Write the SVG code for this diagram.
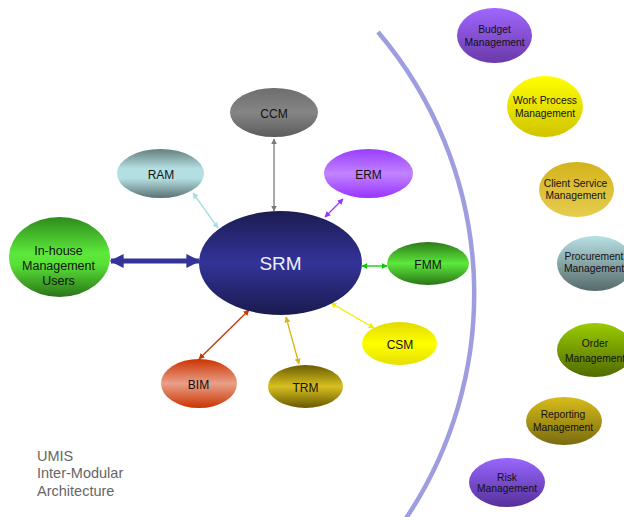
<svg xmlns="http://www.w3.org/2000/svg" width="624" height="517" viewBox="0 0 624 517">
<style>
text{font-family:"Liberation Sans",Arial,sans-serif;text-anchor:middle;fill:#111}
.s{font-size:12px}
.r{font-size:10.3px}
.c{fill:none;stroke-width:1.3}
</style>
<defs>
<linearGradient id="gSRM" x1="0" y1="0" x2="0" y2="1"><stop offset="0" stop-color="#1c1c52"/><stop offset="0.5" stop-color="#333399"/><stop offset="1" stop-color="#1a1a4e"/></linearGradient>
<linearGradient id="gCCM" x1="0" y1="0" x2="0" y2="1"><stop offset="0" stop-color="#6e6e6e"/><stop offset="0.5" stop-color="#858585"/><stop offset="1" stop-color="#5c5c5c"/></linearGradient>
<linearGradient id="gRAM" x1="0" y1="0" x2="0" y2="1"><stop offset="0" stop-color="#647e7e"/><stop offset="0.4" stop-color="#b4dfe2"/><stop offset="0.6" stop-color="#b4dfe2"/><stop offset="1" stop-color="#5a7272"/></linearGradient>
<linearGradient id="gIH" x1="0" y1="0" x2="0" y2="1"><stop offset="0" stop-color="#2e8a1c"/><stop offset="0.45" stop-color="#5ce83a"/><stop offset="0.6" stop-color="#58e036"/><stop offset="1" stop-color="#2a7418"/></linearGradient>
<linearGradient id="gERM" x1="0" y1="0" x2="0" y2="1"><stop offset="0" stop-color="#9a3cff"/><stop offset="0.5" stop-color="#c184ff"/><stop offset="1" stop-color="#9933ff"/></linearGradient>
<linearGradient id="gFMM" x1="0" y1="0" x2="0" y2="1"><stop offset="0" stop-color="#2d7a1a"/><stop offset="0.5" stop-color="#5ce83a"/><stop offset="1" stop-color="#2a7418"/></linearGradient>
<linearGradient id="gCSM" x1="0" y1="0" x2="0" y2="1"><stop offset="0" stop-color="#e2da00"/><stop offset="0.5" stop-color="#ffff00"/><stop offset="1" stop-color="#e6e000"/></linearGradient>
<linearGradient id="gTRM" x1="0" y1="0" x2="0" y2="1"><stop offset="0" stop-color="#6a5c00"/><stop offset="0.5" stop-color="#d8c020"/><stop offset="1" stop-color="#665800"/></linearGradient>
<linearGradient id="gBIM" x1="0" y1="0" x2="0" y2="1"><stop offset="0" stop-color="#cc3300"/><stop offset="0.5" stop-color="#e8a088"/><stop offset="1" stop-color="#cc3300"/></linearGradient>
<linearGradient id="gBud" x1="0" y1="0" x2="0" y2="1"><stop offset="0" stop-color="#a066ff"/><stop offset="1" stop-color="#6a3aa8"/></linearGradient>
<linearGradient id="gWP" x1="0" y1="0" x2="0" y2="1"><stop offset="0" stop-color="#ffff00"/><stop offset="1" stop-color="#d0c400"/></linearGradient>
<linearGradient id="gCS" x1="0" y1="0" x2="0" y2="1"><stop offset="0" stop-color="#d4b41c"/><stop offset="1" stop-color="#e6cc50"/></linearGradient>
<linearGradient id="gPro" x1="0" y1="0" x2="0" y2="1"><stop offset="0" stop-color="#b8e0e4"/><stop offset="1" stop-color="#566a6a"/></linearGradient>
<linearGradient id="gOrd" x1="0" y1="0" x2="0" y2="1"><stop offset="0" stop-color="#9acc00"/><stop offset="1" stop-color="#506a00"/></linearGradient>
<linearGradient id="gRep" x1="0" y1="0" x2="0" y2="1"><stop offset="0" stop-color="#d8bc1a"/><stop offset="1" stop-color="#7a6a10"/></linearGradient>
<linearGradient id="gRisk" x1="0" y1="0" x2="0" y2="1"><stop offset="0" stop-color="#9966ff"/><stop offset="1" stop-color="#55309a"/></linearGradient>
<marker id="mGray" viewBox="0 0 10 10" refX="9" refY="5" markerWidth="6" markerHeight="6" markerUnits="userSpaceOnUse" orient="auto-start-reverse"><path d="M0 0L10 5L0 10z" fill="#7a7a7a"/></marker>
<marker id="mLB" viewBox="0 0 10 10" refX="9" refY="5" markerWidth="6" markerHeight="6" markerUnits="userSpaceOnUse" orient="auto-start-reverse"><path d="M0 0L10 5L0 10z" fill="#a8dce2"/></marker>
<marker id="mPur" viewBox="0 0 10 10" refX="9" refY="5" markerWidth="6" markerHeight="6" markerUnits="userSpaceOnUse" orient="auto-start-reverse"><path d="M0 0L10 5L0 10z" fill="#9933ff"/></marker>
<marker id="mGrn" viewBox="0 0 10 10" refX="9" refY="5" markerWidth="6" markerHeight="6" markerUnits="userSpaceOnUse" orient="auto-start-reverse"><path d="M0 0L10 5L0 10z" fill="#00cc00"/></marker>
<marker id="mYel" viewBox="0 0 10 10" refX="9" refY="5" markerWidth="6" markerHeight="6" markerUnits="userSpaceOnUse" orient="auto-start-reverse"><path d="M0 0L10 5L0 10z" fill="#eeee00"/></marker>
<marker id="mGold" viewBox="0 0 10 10" refX="9" refY="5" markerWidth="6" markerHeight="6" markerUnits="userSpaceOnUse" orient="auto-start-reverse"><path d="M0 0L10 5L0 10z" fill="#d8b410"/></marker>
<marker id="mRed" viewBox="0 0 10 10" refX="9" refY="5" markerWidth="6" markerHeight="6" markerUnits="userSpaceOnUse" orient="auto-start-reverse"><path d="M0 0L10 5L0 10z" fill="#cc3300"/></marker>
<marker id="mBig" viewBox="0 0 10 10" refX="9" refY="5" markerWidth="14" markerHeight="14" markerUnits="userSpaceOnUse" orient="auto-start-reverse"><path d="M0 0L10 5L0 10z" fill="#333399"/></marker>
</defs>
<rect width="624" height="517" fill="#fff"/>
<path d="M378 32 A404 404 0 0 1 403.5 522" fill="none" stroke="#9d9de0" stroke-width="4.5"/>
<g id="connectors">
<line class="c" x1="274" y1="139" x2="274" y2="211" stroke="#7a7a7a" marker-start="url(#mGray)" marker-end="url(#mGray)"/>
<line class="c" x1="193" y1="193" x2="218" y2="228" stroke="#a8dce2" marker-start="url(#mLB)" marker-end="url(#mLB)"/>
<line class="c" x1="325" y1="217" x2="343" y2="199" stroke="#9933ff" marker-start="url(#mPur)" marker-end="url(#mPur)"/>
<line class="c" x1="362" y1="266" x2="387" y2="266" stroke="#00cc00" marker-start="url(#mGrn)" marker-end="url(#mGrn)"/>
<line class="c" x1="331" y1="303" x2="374" y2="328" stroke="#eeee00" marker-start="url(#mYel)" marker-end="url(#mYel)"/>
<line class="c" x1="286" y1="317" x2="299" y2="364" stroke="#d8b410" marker-start="url(#mGold)" marker-end="url(#mGold)"/>
<line class="c" x1="249" y1="310" x2="199" y2="359" stroke="#cc3300" marker-start="url(#mRed)" marker-end="url(#mRed)"/>
<line x1="111" y1="261" x2="199" y2="261" stroke="#333399" stroke-width="5" marker-start="url(#mBig)" marker-end="url(#mBig)"/>
</g>
<g id="SRM"><ellipse cx="280.5" cy="263" rx="81.5" ry="52" fill="url(#gSRM)"/><text x="280.5" y="270" style="font-size:19px;fill:#eeeeff">SRM</text></g>
<g id="CCM"><ellipse cx="274" cy="112.5" rx="44" ry="24.5" fill="url(#gCCM)"/><text class="s" x="274" y="117.5">CCM</text></g>
<g id="RAM"><ellipse cx="160.5" cy="173.5" rx="43.5" ry="24.5" fill="url(#gRAM)"/><text class="s" x="161" y="179">RAM</text></g>
<g id="InHouse"><ellipse cx="59.5" cy="257" rx="50.5" ry="40" fill="url(#gIH)"/><text x="58.5" y="255" style="font-size:12.5px">In-house</text><text x="58.5" y="269.5" style="font-size:12.5px">Management</text><text x="58.5" y="284.5" style="font-size:12.5px">Users</text></g>
<g id="ERM"><ellipse cx="368.5" cy="173.5" rx="44.5" ry="24.5" fill="url(#gERM)"/><text class="s" x="368.5" y="178.5">ERM</text></g>
<g id="FMM"><ellipse cx="428" cy="263.5" rx="41" ry="21.5" fill="url(#gFMM)"/><text class="s" x="428" y="269">FMM</text></g>
<g id="CSM"><ellipse cx="399.5" cy="343.5" rx="37.5" ry="21.5" fill="url(#gCSM)"/><text class="s" x="400" y="348.5">CSM</text></g>
<g id="TRM"><ellipse cx="305.5" cy="386.5" rx="37.5" ry="21.5" fill="url(#gTRM)"/><text class="s" x="305.5" y="391.5">TRM</text></g>
<g id="BIM"><ellipse cx="199" cy="383.5" rx="38" ry="24.5" fill="url(#gBIM)"/><text class="s" x="198.5" y="389">BIM</text></g>
<g id="Budget"><ellipse cx="494.5" cy="35.5" rx="37.5" ry="27.5" fill="url(#gBud)"/><text class="r" x="494.5" y="33">Budget</text><text class="r" x="494.5" y="46">Management</text></g>
<g id="WorkProcess"><ellipse cx="545" cy="106.5" rx="38" ry="30.5" fill="url(#gWP)"/><text class="r" x="545" y="104">Work Process</text><text class="r" x="545" y="116.5">Management</text></g>
<g id="ClientService"><ellipse cx="576.5" cy="189.5" rx="37.5" ry="27.5" fill="url(#gCS)"/><text class="r" x="575.5" y="187">Client Service</text><text class="r" x="575.5" y="199">Management</text></g>
<g id="Procurement"><ellipse cx="595" cy="263.5" rx="38" ry="27.5" fill="url(#gPro)"/><text class="r" x="594" y="260">Procurement</text><text class="r" x="594" y="272">Management</text></g>
<g id="Order"><ellipse cx="595" cy="350" rx="38" ry="27" fill="url(#gOrd)"/><text class="r" x="595" y="347">Order</text><text class="r" x="595" y="361.5">Management</text></g>
<g id="Reporting"><ellipse cx="564" cy="421" rx="38" ry="24" fill="url(#gRep)"/><text class="r" x="563" y="418">Reporting</text><text class="r" x="563" y="430.5">Management</text></g>
<g id="Risk"><ellipse cx="507" cy="482.5" rx="38" ry="24.5" fill="url(#gRisk)"/><text class="r" x="507" y="480.5">Risk</text><text class="r" x="507" y="492">Management</text></g>
<g id="caption" style="font-size:14.5px">
<text x="37" y="461" style="text-anchor:start;fill:#666">UMIS</text>
<text x="37" y="478" style="text-anchor:start;fill:#666">Inter-Modular</text>
<text x="37" y="496" style="text-anchor:start;fill:#666">Architecture</text>
</g>
</svg>
